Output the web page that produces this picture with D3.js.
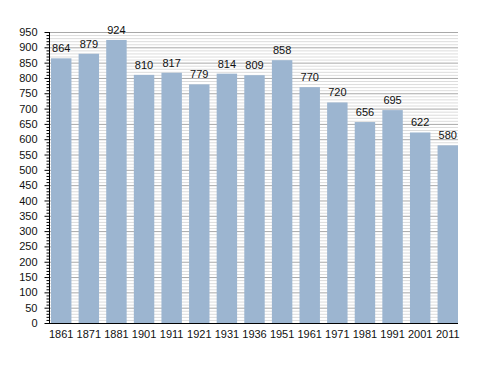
<!DOCTYPE html>
<html><head><meta charset="utf-8">
<script src="https://cdn.jsdelivr.net/npm/d3@7"></script>
<style>body{margin:0;background:#fff}svg{display:block}text{font-family:"Liberation Sans",Arial,sans-serif}</style>
</head><body>
<svg id="c" width="488" height="373"></svg>
<script>
const years = ["1861","1871","1881","1901","1911","1921","1931","1936","1951","1961","1971","1981","1991","2001","2011"];
const population = [864,879,924,810,817,779,814,809,858,770,720,656,695,622,580];
const yTicks = d3.range(0, 951, 50);
const yMinor = d3.range(0, 951, 10);

const svg = d3.select("#c");
const x = d3.scaleBand().domain(years).range([51, 458]).paddingInner(0.26).paddingOuter(0);
const y = d3.scaleLinear().domain([0, 950]).range([323, 32]);

// minor grid
svg.append("g").selectAll("line").data(yMinor.filter(v => v % 50 !== 0)).join("line")
  .attr("x1", 50).attr("x2", 458).attr("y1", d => y(d) + 0.5).attr("y2", d => y(d) + 0.5)
  .attr("stroke", "#dcdcdc").attr("stroke-width", 1);
// major grid
svg.append("g").selectAll("line").data(yTicks.filter(v => v > 0)).join("line")
  .attr("x1", 50).attr("x2", 458).attr("y1", d => y(d) + 0.5).attr("y2", d => y(d) + 0.5)
  .attr("stroke", "#a8a8a8").attr("stroke-width", 1);

// bars
svg.append("g").selectAll("rect").data(years).join("rect")
  .attr("x", d => x(d)).attr("width", x.bandwidth())
  .attr("y", (d, i) => y(population[i])).attr("height", (d, i) => y(0) - y(population[i]))
  .attr("fill", "#9cb5d0");

// value labels
svg.append("g").selectAll("text").data(years).join("text")
  .attr("x", d => x(d) + x.bandwidth() / 2).attr("y", (d, i) => y(population[i]) - 6)
  .attr("text-anchor", "middle").attr("font-size", 11).attr("fill", "#111")
  .text((d, i) => population[i]);

// y axis
const yAxis = svg.append("g").attr("transform", "translate(49.5,0)");
yAxis.call(d3.axisLeft(y).tickValues(yTicks).tickSize(5).tickPadding(7).tickFormat(d3.format("d")));
yAxis.select(".domain").remove();
yAxis.append("line").attr("x1", 0).attr("x2", 0).attr("y1", y(950)).attr("y2", y(0)).attr("stroke", "#000");
yAxis.selectAll(".minor").data(yMinor.filter(v => v % 50 !== 0)).join("line").attr("class", "minor")
  .attr("x1", -3).attr("x2", 0).attr("y1", d => y(d) + 0.5).attr("y2", d => y(d) + 0.5).attr("stroke", "#000");
yAxis.selectAll(".tick text").attr("font-size", 11).attr("fill", "#111").attr("font-family", "Liberation Sans, Arial, sans-serif");

// x axis
const xAxis = svg.append("g").attr("transform", "translate(0,323.5)");
xAxis.call(d3.axisBottom(x).tickSize(0).tickPadding(7));
xAxis.select(".domain").remove();
xAxis.append("line").attr("x1", 45).attr("x2", 458).attr("stroke", "#000");
xAxis.selectAll(".tick text").attr("font-size", 11).attr("fill", "#111").attr("font-family", "Liberation Sans, Arial, sans-serif");
</script>
</body></html>
